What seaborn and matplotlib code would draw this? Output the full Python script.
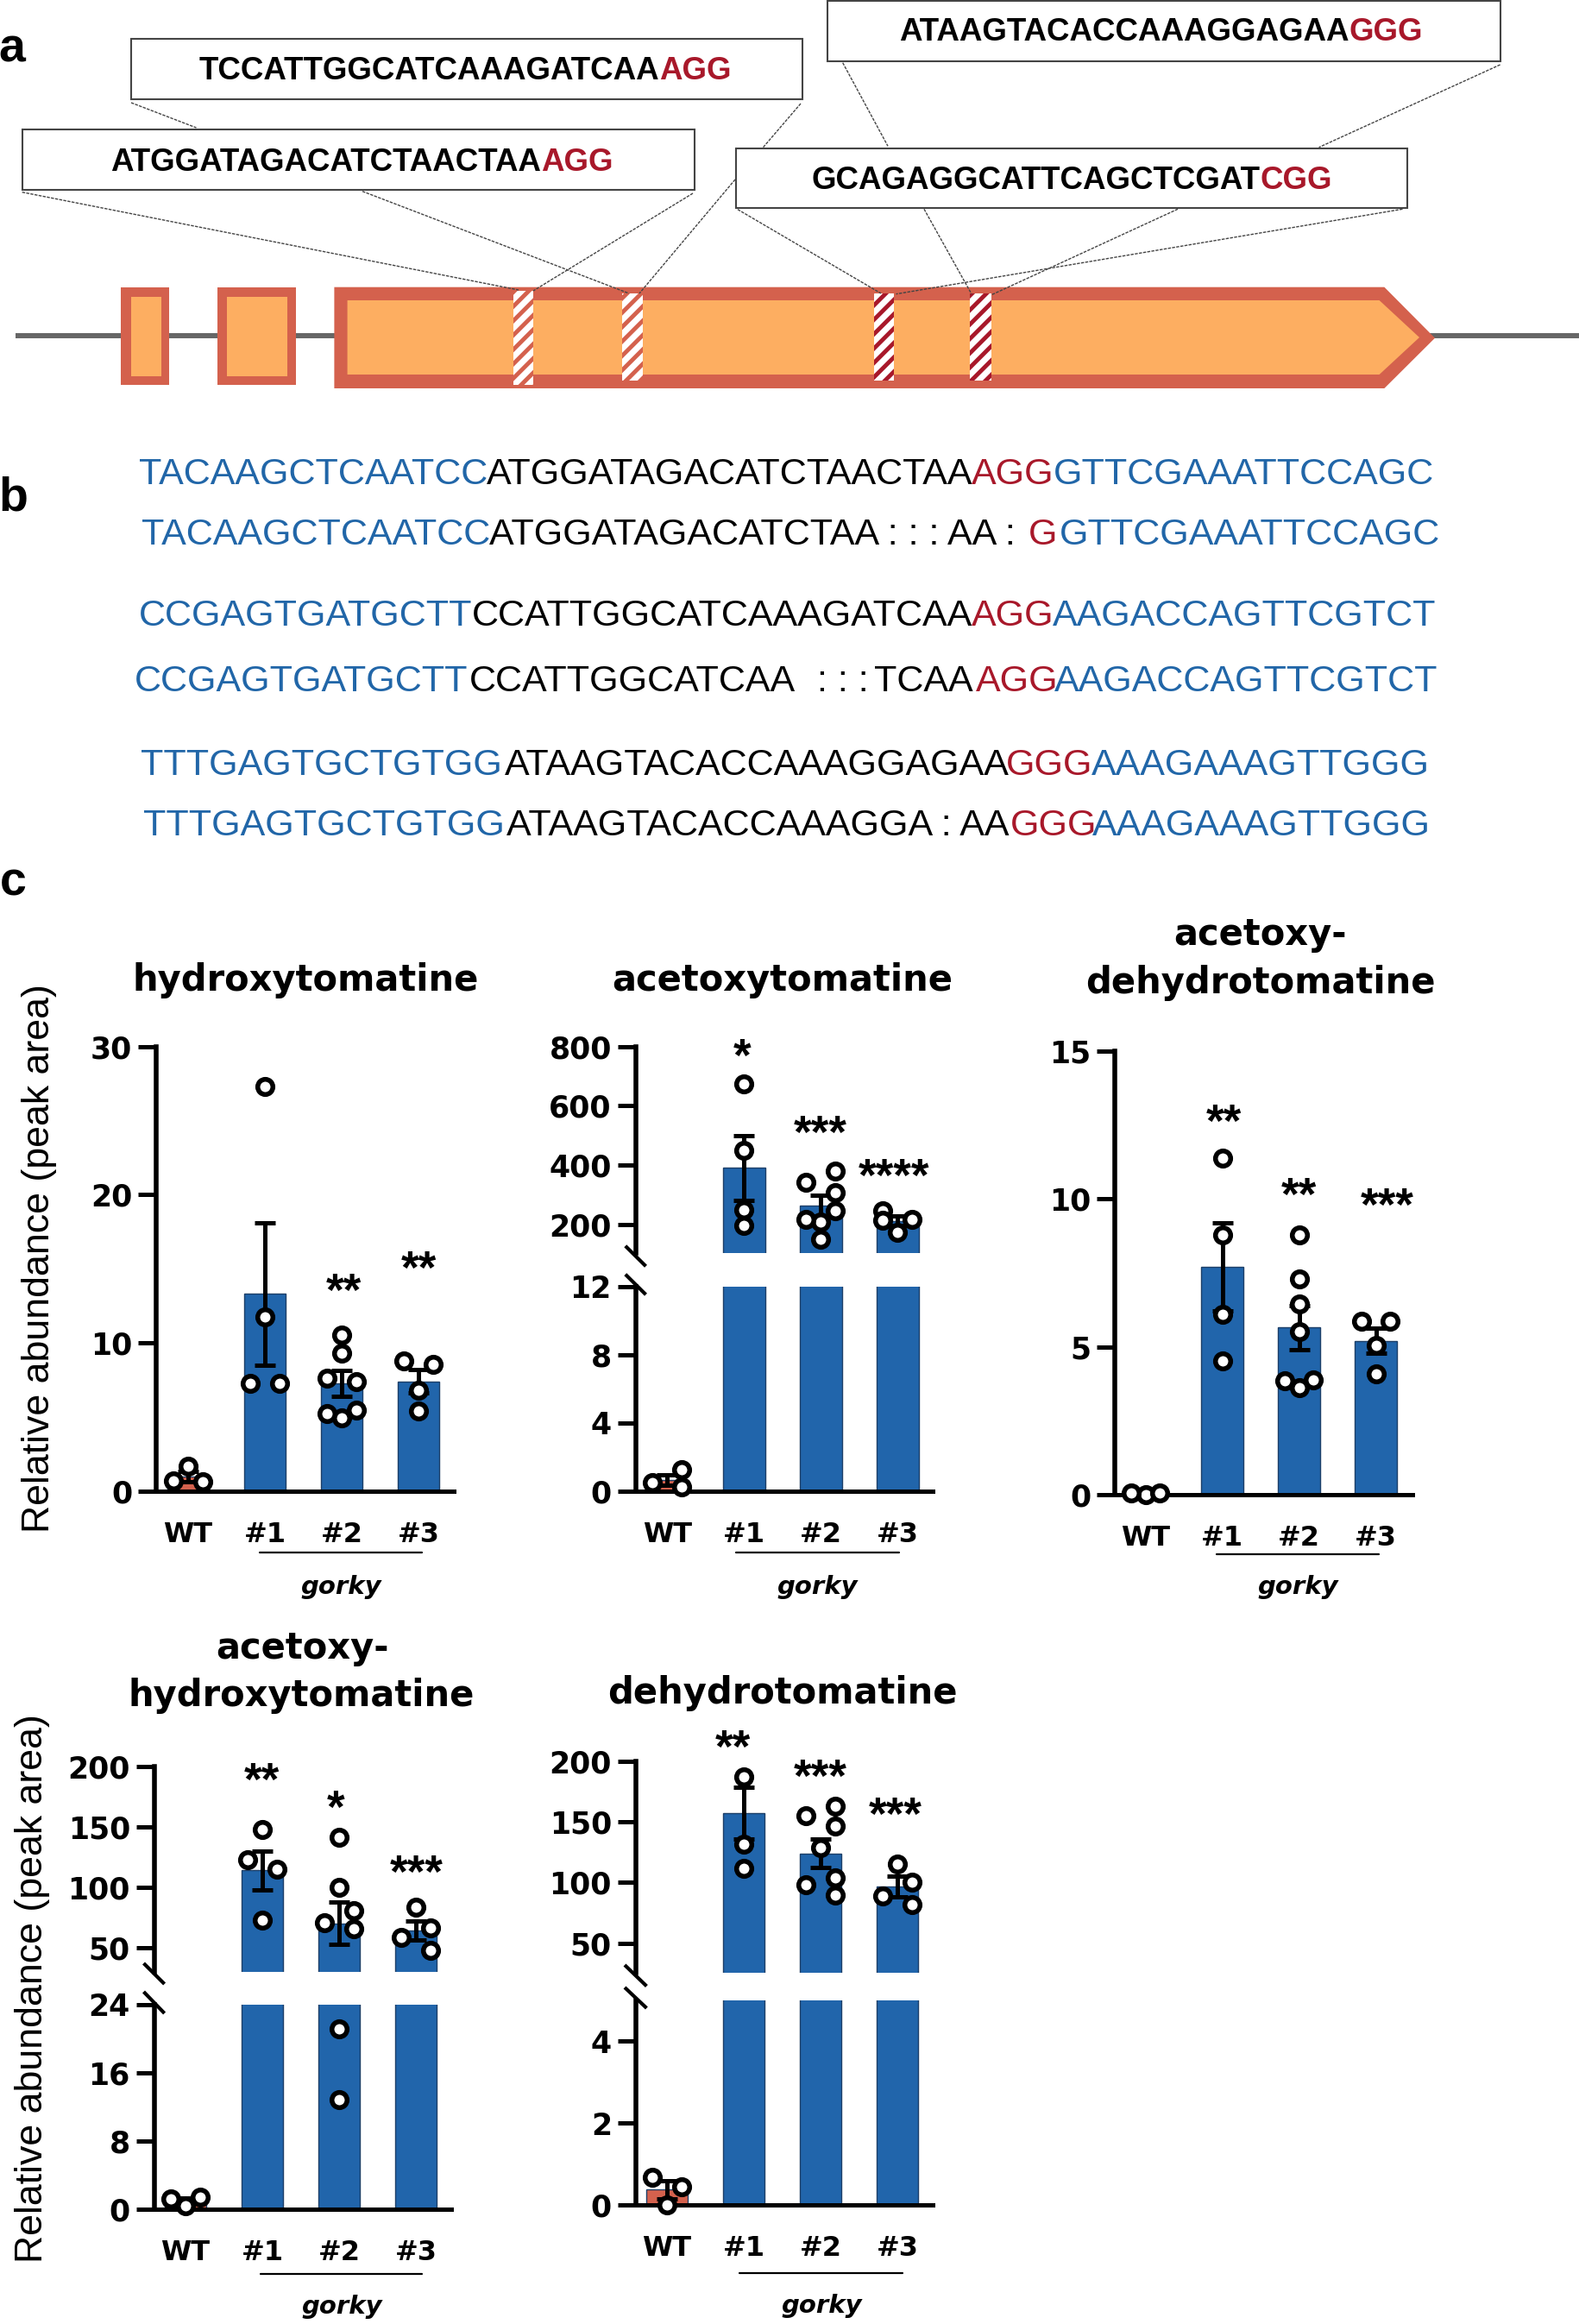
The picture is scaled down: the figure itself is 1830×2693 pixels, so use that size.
import matplotlib
matplotlib.use("Agg")
import matplotlib.pyplot as plt
import numpy as np
import pandas as pd
import seaborn as sns
from matplotlib.collections import PathCollection
from matplotlib.patches import Polygon, Rectangle

W, H = 1830, 2693
BLUE = "#2165AB"
RED = "#D4614D"
ORANGE = "#FDAE61"
DARK_RED = "#A8182A"
SEQ_BLUE = "#2166A8"
WIDE = "DejaVu Sans"

groups = ["WT", "#1", "#2", "#3"]

# values
hydroxy_means = [0.99, 13.3, 7.25, 7.4]
hydroxy_sems = [0.34, 4.8, 0.87, 0.8]
hydroxy_points = [[1.68, 0.61, 0.67], [27.3, 11.73, 7.25, 7.25],
                  [10.5, 9.3, 7.6, 7.37, 5.48, 4.96, 5.24], [8.53, 8.77, 6.79, 5.42]]

acetoxy_means = [0.66, 390, 263, 212]
acetoxy_sems = [0.3, 110, 35, 15]
acetoxy_points = [[1.25, 0.26, 0.48], [675, 450, 250, 195],
                  [380, 341, 306, 245, 209, 218, 149], [245, 218, 215, 172]]

acetoxy_dehydro_means = [0.03, 7.7, 5.65, 5.2]
acetoxy_dehydro_sems = [0.0, 1.5, 0.74, 0.43]
acetoxy_dehydro_points = [[0.0, 0.05, 0.05], [11.39, 8.79, 6.1, 4.52],
                          [8.79, 7.3, 6.46, 5.51, 3.63, 3.89, 3.86], [5.85, 5.85, 5.04, 4.09]]

acetoxy_hydroxy_means = [1.05, 114, 70, 64]
acetoxy_hydroxy_sems = [0.3, 16, 17.6, 7.8]
acetoxy_hydroxy_points = [[0.42, 1.48, 1.22], [147.5, 122.4, 115, 72.5],
                          [141.5, 99.5, 80.4, 70.6, 65.7, 21.1, 12.8], [83.4, 66.5, 58.6, 47.8]]

dehydro_means = [0.375, 157, 124, 96.5]
dehydro_sems = [0.22, 21.5, 12, 8.5]
dehydro_points = [[0.685, 0.44, 0.0], [187, 131.7, 111.6],
                  [155, 162.5, 146.4, 128.5, 103.5, 98.3, 89.7], [115.3, 100, 89.2, 81.4]]

guides = ["TCCATTGGCATCAAAGATCAA", "ATGGATAGACATCTAACTAA", "ATAAGTACACCAAAGGAGAA", "GCAGAGGCATTCAGCTCGAT"]
pams = ["AGG", "AGG", "GGG", "CGG"]

sns.set_theme(style="white")
plt.rcParams["font.family"] = ["Liberation Sans", "DejaVu Sans"]
plt.rcParams["hatch.linewidth"] = 3.5

fig = plt.figure(figsize=(W / 100, H / 100), dpi=100)

# overlay in reference pixels for the schematic and the free text
over = fig.add_axes([0, 0, 1, 1], zorder=5)
over.set_xlim(0, W)
over.set_ylim(H, 0)
over.axis("off")


def px_axes(left, right, top, bottom):
    ax = fig.add_axes([left / W, 1 - bottom / H, (right - left) / W, (bottom - top) / H])
    ax.patch.set_visible(False)
    return ax


def fill_axes(ax, means, sems, points, ymin, ymax, ticks, limits):
    colors = [RED, BLUE, BLUE, BLUE]
    sns.barplot(x=groups, y=means, hue=groups, order=groups, hue_order=groups, palette=colors,
                saturation=1, width=0.545, errorbar=None, legend=False, ax=ax,
                edgecolor="#1d3f68", linewidth=1)
    ax.errorbar(range(4), means, yerr=sems, fmt="none", ecolor="black", elinewidth=3.6,
                capsize=8.5, capthick=3.6, zorder=3)
    df = pd.DataFrame([(g, v) for g, vals in zip(groups, points) for v in vals], columns=["group", "value"])
    df = df[(df["value"] >= ymin) & (df["value"] <= ymax)]
    sns.swarmplot(data=df, x="group", y="value", order=groups, color="white", edgecolor="black",
                  linewidth=2.9, size=9, zorder=4, clip_on=False, ax=ax, legend=False)
    ax.set_xlim(*limits)
    ax.set_ylim(ymin, ymax)
    ax.set_yticks(ticks)
    ax.set_xlabel("")
    ax.set_ylabel("")
    ax.tick_params(axis="y", length=15, width=3.6, pad=5, labelsize=25, left=True, color="black", labelcolor="black")
    for lab in ax.get_yticklabels():
        lab.set_fontweight("bold")
        lab.set_fontfamily(WIDE)
    sns.despine(ax=ax)
    ax.spines["left"].set_linewidth(4)
    ax.spines["left"].set_color("black")
    ax.spines["bottom"].set_linewidth(3.6)
    ax.spines["bottom"].set_color("black")


def bar_panel(means, sems, points, spine_x, right_x, wt_x, step, lower, upper=None):
    limits = ((spine_x - wt_x) / step, (right_x - wt_x) / step)
    top, bottom, ymax, ticks = lower
    ax = px_axes(spine_x, right_x, top, bottom)
    fill_axes(ax, means, sems, points, 0, ymax, ticks, limits)
    ax.tick_params(axis="x", length=0, pad=25, labelsize=23, labelcolor="black")
    for lab in ax.get_xticklabels():
        lab.set_fontweight("bold")
        lab.set_fontfamily(WIDE)
    made = [ax]
    if upper is not None:
        top, bottom, ymin, ymax, ticks = upper
        up = px_axes(spine_x, right_x, top, bottom)
        fill_axes(up, means, sems, points, ymin, ymax, ticks, limits)
        up.spines["bottom"].set_visible(False)
        up.tick_params(axis="x", length=0, labelbottom=False)
        made.append(up)
    return made


panels = []
panels += bar_panel(hydroxy_means, hydroxy_sems, hydroxy_points, 181, 526, 218, 89,
                    (1212.6, 1727.8, 30, [0, 10, 20, 30]))
panels += bar_panel(acetoxy_means, acetoxy_sems, acetoxy_points, 736.6, 1080.6, 773.4, 89,
                    (1490.8, 1727.8, 12, [0, 4, 8, 12]),
                    (1212.6, 1452, 103, 800, [200, 400, 600, 800]))
panels += bar_panel(acetoxy_dehydro_means, acetoxy_dehydro_sems, acetoxy_dehydro_points, 1291.9, 1636.7, 1327.5, 89,
                    (1217.8, 1732, 15, [0, 5, 10, 15]))
panels += bar_panel(acetoxy_hydroxy_means, acetoxy_hydroxy_sems, acetoxy_hydroxy_points, 178.7, 523, 215, 89,
                    (2322.5, 2560.3, 24, [0, 8, 16, 24]),
                    (2046.9, 2284.7, 30, 200, [50, 100, 150, 200]))
panels += bar_panel(dehydro_means, dehydro_sems, dehydro_points, 736.7, 1081, 773, 89,
                    (2317.8, 2555, 5, [0, 2, 4]),
                    (2040.6, 2286.3, 25.4, 200, [50, 100, 150, 200]))

# let the swarms settle with a tight spacing, then freeze them, snap sideways
# offsets to one column width as in the reference and draw the real marker size
fig.canvas.draw()
for ax in panels:
    for coll in ax.collections:
        if isinstance(coll, PathCollection):
            coll.__dict__.pop("draw", None)
            xy = np.array(coll.get_offsets())
            if len(xy):
                centre = np.round(xy[:, 0])
                delta = xy[:, 0] - centre
                side = np.where(np.abs(delta) > 0.02, np.sign(delta), 0)
                ypx = ax.transData.transform(xy)[:, 1]
                # a lone pair on one level sits either side of the centre
                for i in np.where(side == 0)[0]:
                    near = np.where((np.abs(ypx - ypx[i]) < 16) & (centre == centre[i]))[0]
                    near = near[near != i]
                    if len(near) == 1 and side[near[0]] != 0:
                        side[i] = -side[near[0]]
                xy[:, 0] = centre + side * 0.19
                coll.set_offsets(xy)
            coll.set_sizes([160])
            coll.set_linewidth(4)

# break marks
breaks = [((724.8, 1443.8), (748.5, 1467.3)), ((724.8, 1476.7), (748.5, 1500.2)),
          ((166.5, 2275), (190.6, 2299)), ((166.5, 2308), (190.6, 2333)),
          ((724, 2277), (749.4, 2301.5)), ((724, 2303), (749.4, 2327))]
for (x0, y0), (x1, y1) in breaks:
    over.plot([x0, x1], [y0, y1], color="black", lw=3, solid_capstyle="butt")

# titles
titles = [(354, 1136, "hydroxytomatine"), (907, 1136, "acetoxytomatine"),
          (1461, 1083, "acetoxy-"), (1461, 1139, "dehydrotomatine"),
          (350, 1910, "acetoxy-"), (349, 1965.5, "hydroxytomatine"),
          (906.6, 1962, "dehydrotomatine")]
for x, y, txt in titles:
    over.text(x, y, txt, ha="center", va="center", fontsize=30, fontweight="bold", color="black", family=WIDE)

over.text(46, 1458, "Relative abundance (peak area)", rotation=90, ha="center", va="center", fontsize=32.2, color="black")
over.text(38, 2304, "Relative abundance (peak area)", rotation=90, ha="center", va="center", fontsize=32.2, color="black")

# gorky brackets
brackets = [(301, 489, 1799.4, 395, 1839), (853, 1042, 1799.4, 947.4, 1839), (1410, 1598, 1801, 1504, 1839),
            (301.6, 488.7, 2635, 396, 2673), (857, 1046, 2634, 952, 2672)]
for x0, x1, y, xt, yt in brackets:
    over.plot([x0, x1], [y, y], color="black", lw=1.6)
    over.text(xt, yt, "gorky", ha="center", va="center", fontsize=21, fontweight="bold", fontstyle="italic",
              color="black", family=WIDE)

# significance stars
stars = [(398, 1487, "**"), (485.6, 1461, "**"),
         (860, 1215, "*"), (950.6, 1304, "***"), (1036, 1354, "****"),
         (1418.4, 1291, "**"), (1505.4, 1376, "**"), (1607.8, 1388, "***"),
         (303, 2053.7, "**"), (389.6, 2086, "*"), (483, 2161, "***"),
         (849.6, 2016, "**"), (951, 2049.5, "***"), (1038, 2094, "***")]
for x, y, txt in stars:
    over.text(x, y + 26, txt, ha="center", va="baseline", fontsize=38, fontweight="bold", color="black")

# panel letters
for x, y, txt in [(14, 57, "a"), (15, 578, "b"), (15, 1024, "c")]:
    over.text(x, y, txt, ha="center", va="center", fontsize=40, fontweight="bold", color="black")

# gene model
over.plot([17.5, W], [388.7, 388.7], color="#666666", lw=4.3, solid_capstyle="butt", zorder=1)
for x0, x1, ix0, ix1 in [(140, 196, 151.7, 186.7), (252, 343, 262.5, 332.6)]:
    over.add_patch(Rectangle((x0, 333), x1 - x0, 112.7, facecolor=RED, edgecolor="none", zorder=2))
    over.add_patch(Rectangle((ix0, 344), ix1 - ix0, 91.7, facecolor=ORANGE, edgecolor="none", zorder=3))
over.add_patch(Polygon([(387.4, 332.7), (1604.4, 332.7), (1663, 391.7), (1604.4, 450), (387.4, 450)],
                       facecolor=RED, edgecolor="none", zorder=2))
over.add_patch(Polygon([(402.6, 348), (1598.6, 348), (1645, 391), (1598.6, 434), (402.6, 434)],
                       facecolor=ORANGE, edgecolor="none", zorder=3))
stripes = [(595, 618, 337, 446, RED), (721, 744.5, 340, 441, RED),
           (1013, 1036, 340, 441, DARK_RED), (1124, 1149, 340, 441, DARK_RED)]
for x0, x1, y0, y1, col in stripes:
    over.add_patch(Rectangle((x0, y0), x1 - x0, y1 - y0, facecolor="white", edgecolor=col, hatch="//",
                             linewidth=0, zorder=4))

# dashed call-out lines
callouts = [((25.7, 222.7), (601, 336)), ((420, 221.7), (729, 340)), ((803, 224), (618, 337)),
            ((152, 119), (227.5, 148)), ((928, 120), (884.5, 170.7)), ((852, 208), (741, 340)),
            ((855, 242.7), (1021, 340)), ((1071, 242.3), (1126, 340.7)), ((1365, 242.3), (1149, 341.7)),
            ((1625.5, 242.3), (1038.5, 340.7)), ((976.7, 72.7), (1029, 169.3)), ((1738.6, 75), (1528.6, 170.7))]
for (x0, y0), (x1, y1) in callouts:
    over.plot([x0, x1], [y0, y1], color="#444444", lw=1.0, ls=(0, (2.5, 1)), zorder=5)

# guide boxes
boxes = [(152, 930, 45, 115, 764, 83), (26, 805, 150, 220, 626.6, 188),
         (959, 1739, 1, 71, 1563.6, 37.5), (853, 1631, 172, 241, 1461, 209.7)]
for guide, pam, (x0, x1, y0, y1, split, ty) in zip(guides, pams, boxes):
    over.add_patch(Rectangle((x0, y0), x1 - x0, y1 - y0, facecolor="white", edgecolor="#444444", linewidth=1.5, zorder=6))
    over.text(split, ty, guide, ha="right", va="center", fontsize=26.5, fontweight="bold", color="black", zorder=7)
    over.text(split, ty, pam, ha="left", va="center", fontsize=26.5, fontweight="bold", color=DARK_RED, zorder=7)

# aligned sequences
seq_lines = [
    (549.7, [(161, "TACAAGCTCAATCC", SEQ_BLUE), (564, "ATGGATAGACATCTAACTAA", "black"), (1125.5, "AGG", DARK_RED), (1220.4, "GTTCGAAATTCCAGC", SEQ_BLUE)]),
    (619.7, [(164, "TACAAGCTCAATCC", SEQ_BLUE), (567, "ATGGATAGACATCTAA : : : AA :", "black"), (1192, "G", DARK_RED), (1227.6, "GTTCGAAATTCCAGC", SEQ_BLUE)]),
    (713.7, [(161, "CCGAGTGATGCTT", SEQ_BLUE), (547, "CCATTGGCATCAAAGATCAA", "black"), (1125.5, "AGG", DARK_RED), (1220, "AAGACCAGTTCGTCT", SEQ_BLUE)]),
    (789.7, [(156, "CCGAGTGATGCTT", SEQ_BLUE), (544, "CCATTGGCATCAA", "black"), (947, ": : :", "black"), (1013, "TCAA", "black"), (1130.6, "AGG", DARK_RED), (1222.4, "AAGACCAGTTCGTCT", SEQ_BLUE)]),
    (887, [(163, "TTTGAGTGCTGTGG", SEQ_BLUE), (584.7, "ATAAGTACACCAAAGGAGAA", "black"), (1166, "GGG", DARK_RED), (1265, "AAAGAAAGTTGGG", SEQ_BLUE)]),
    (957, [(166, "TTTGAGTGCTGTGG", SEQ_BLUE), (586.7, "ATAAGTACACCAAAGGA : AA", "black"), (1171, "GGG", DARK_RED), (1266, "AAAGAAAGTTGGG", SEQ_BLUE)]),
]
for y, segments in seq_lines:
    for x, txt, col in segments:
        over.text(x, y, txt, ha="left", va="center", fontsize=31, color=col)

fig.savefig("out.png", dpi=100)
